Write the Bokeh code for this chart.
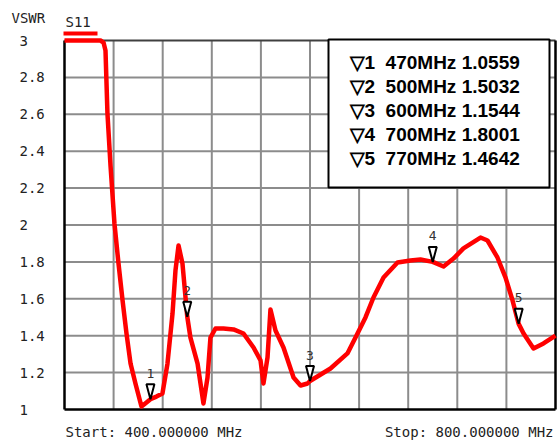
from bokeh.plotting import figure
from bokeh.core.properties import value
from bokeh.embed import file_html
from bokeh.resources import INLINE

# ---- data ----
freq_mhz = [400.0, 429.3, 431.8, 433.4, 435.0, 437.5, 440.7, 444.0, 447.3, 450.5,
            453.8, 457.8, 462.7, 466.8, 470.0, 474.9, 479.8, 483.9, 488.0, 490.4,
            492.9, 496.1, 500.0, 502.6, 508.4, 513.2, 516.5, 518.9, 523.0, 529.5,
            537.7, 545.8, 554.0, 559.7, 562.1, 565.4, 567.8, 571.9, 578.4, 586.6,
            592.3, 598.0, 600.0, 616.7, 630.5, 638.7, 645.2, 651.7, 659.9, 671.3,
            681.9, 690.0, 700.0, 708.8, 716.9, 725.0, 738.9, 744.6, 752.7, 759.3,
            765.0, 770.0, 774.0, 782.1, 790.2, 800.0]
vswr = [3.0, 3.0, 2.989, 2.946, 2.604, 2.32, 2.008, 1.791, 1.591, 1.412,
        1.249, 1.141, 1.016, 1.038, 1.0559, 1.070, 1.087, 1.249, 1.520, 1.753,
        1.889, 1.791, 1.5032, 1.390, 1.249, 1.033, 1.173, 1.390, 1.439, 1.439,
        1.434, 1.412, 1.336, 1.266, 1.141, 1.282, 1.542, 1.428, 1.336, 1.173,
        1.130, 1.141, 1.1544, 1.222, 1.304, 1.412, 1.499, 1.607, 1.715, 1.797,
        1.808, 1.813, 1.8001, 1.775, 1.818, 1.873, 1.932, 1.916, 1.824, 1.715,
        1.591, 1.4642, 1.412, 1.331, 1.358, 1.401]

marker_ids = ["1", "2", "3", "4", "5"]
marker_freq = [470, 500, 600, 700, 770]
marker_vswr = [1.0559, 1.5032, 1.1544, 1.8001, 1.4642]

y_ticks = [1.0, 1.2, 1.4, 1.6, 1.8, 2.0, 2.2, 2.4, 2.6, 2.8, 3.0]
y_tick_labels = ["1", "1.2", "1.4", "1.6", "1.8", "2", "2.2", "2.4", "2.6", "2.8", "3"]
x_grid = [440, 480, 520, 560, 600, 640, 680, 720, 760]
start_text = "Start: 400.000000 MHz"
stop_text = "Stop: 800.000000 MHz"
y_title = "VSWR"
trace_name = "S11"

# ---- layout (pixels of the canvas) ----
W, H = 557, 442
FL, FR, FT, FB = 64, 555, 40, 409          # plot box edges
X0, X1, Y0, Y1 = 400, 800, 1.0, 3.0
px_x = (FR - FL) / (X1 - X0)
px_y = (FB - FT) / (Y1 - Y0)


def dx(px):
    return X0 + (px - FL) / px_x


def dy(py):
    return Y1 - (py - FT) / px_y


MONO = value("DejaVu Sans Mono")
SANS = value("Liberation Sans")

p = figure(width=W, height=H, x_range=(dx(0), dx(W)), y_range=(dy(H), dy(0)),
           output_backend="svg", toolbar_location=None,
           min_border=0, min_border_left=0, min_border_right=0,
           min_border_top=0, min_border_bottom=0)
p.axis.visible = False
p.xgrid.visible = False
p.ygrid.visible = False
p.outline_line_color = None
p.background_fill_color = "white"
p.border_fill_color = "white"

# grid
GRID = "#8c8c8c"
p.segment(x0=x_grid, y0=[Y0] * len(x_grid), x1=x_grid, y1=[Y1] * len(x_grid),
          line_color=GRID, line_width=2)
inner = y_ticks[1:-1]
p.segment(x0=[X0] * len(inner), y0=inner, x1=[X1] * len(inner), y1=inner,
          line_color=GRID, line_width=2)

# plot box
p.segment(x0=[X0], y0=[Y1], x1=[X1], y1=[Y1], line_color="#404040", line_width=2)
p.segment(x0=[X0, X1, X0], y0=[Y0, Y0, Y0], x1=[X0, X1, X1], y1=[Y1, Y1, Y0],
          line_color="black", line_width=2.5)

# y tick labels
p.text(x=[dx(19)] * len(y_ticks), y=y_ticks, text=y_tick_labels,
       text_align="left", text_baseline="middle", text_font=MONO,
       text_font_size="14px", text_color="#222222")

# curve
p.line(freq_mhz, vswr, line_color="#ff0000", line_width=4.5, line_join="round")

# markers (inverted triangles whose tip sits on the trace)
tw, th = 4 / px_x, 15 / px_y
p.patches(xs=[[f - tw, f + tw, f] for f in marker_freq],
          ys=[[v + th, v + th, v] for v in marker_vswr],
          fill_color="white", line_color="black", line_width=2)
p.text(x=marker_freq, y=[v + 26 / px_y for v in marker_vswr], text=marker_ids,
       text_align="center", text_baseline="middle",
       text_font=MONO, text_font_size="13px", text_color="#333333")

# marker table
p.quad(left=[dx(328)], right=[dx(549)], top=[dy(39)], bottom=[dy(187)],
       fill_color="white", line_color="black", line_width=2)
rows = [f"\u25bd{i}\u00a0 {f}MHz {v:.4f}" for i, f, v in zip(marker_ids, marker_freq, marker_vswr)]
p.text(x=[dx(349)] * len(rows), y=[dy(62 + 24 * k) for k in range(len(rows))], text=rows,
       text_align="left", text_baseline="middle", text_font=SANS,
       text_font_style="bold", text_font_size="19px", text_color="black")

# trace tag and title
p.segment(x0=[dx(63)], y0=[dy(33)], x1=[dx(97)], y1=[dy(33)],
          line_color="#ff0000", line_width=4)
p.text(x=[dx(65)], y=[dy(21)], text=[trace_name], text_align="left",
       text_baseline="middle", text_font=MONO, text_font_size="14px",
       text_color="#222222")
p.text(x=[dx(11)], y=[dy(17)], text=[y_title], text_align="left",
       text_baseline="middle", text_font=MONO, text_font_size="14px",
       text_color="#222222")

# start / stop
p.text(x=[dx(65)], y=[dy(431)], text=[start_text], text_align="left",
       text_baseline="middle", text_font=MONO, text_font_size="14px",
       text_color="#222222")
p.text(x=[dx(553)], y=[dy(431)], text=[stop_text], text_align="right",
       text_baseline="middle", text_font=MONO, text_font_size="14px",
       text_color="#222222")

open("out.html", "w").write(file_html(p, INLINE))
